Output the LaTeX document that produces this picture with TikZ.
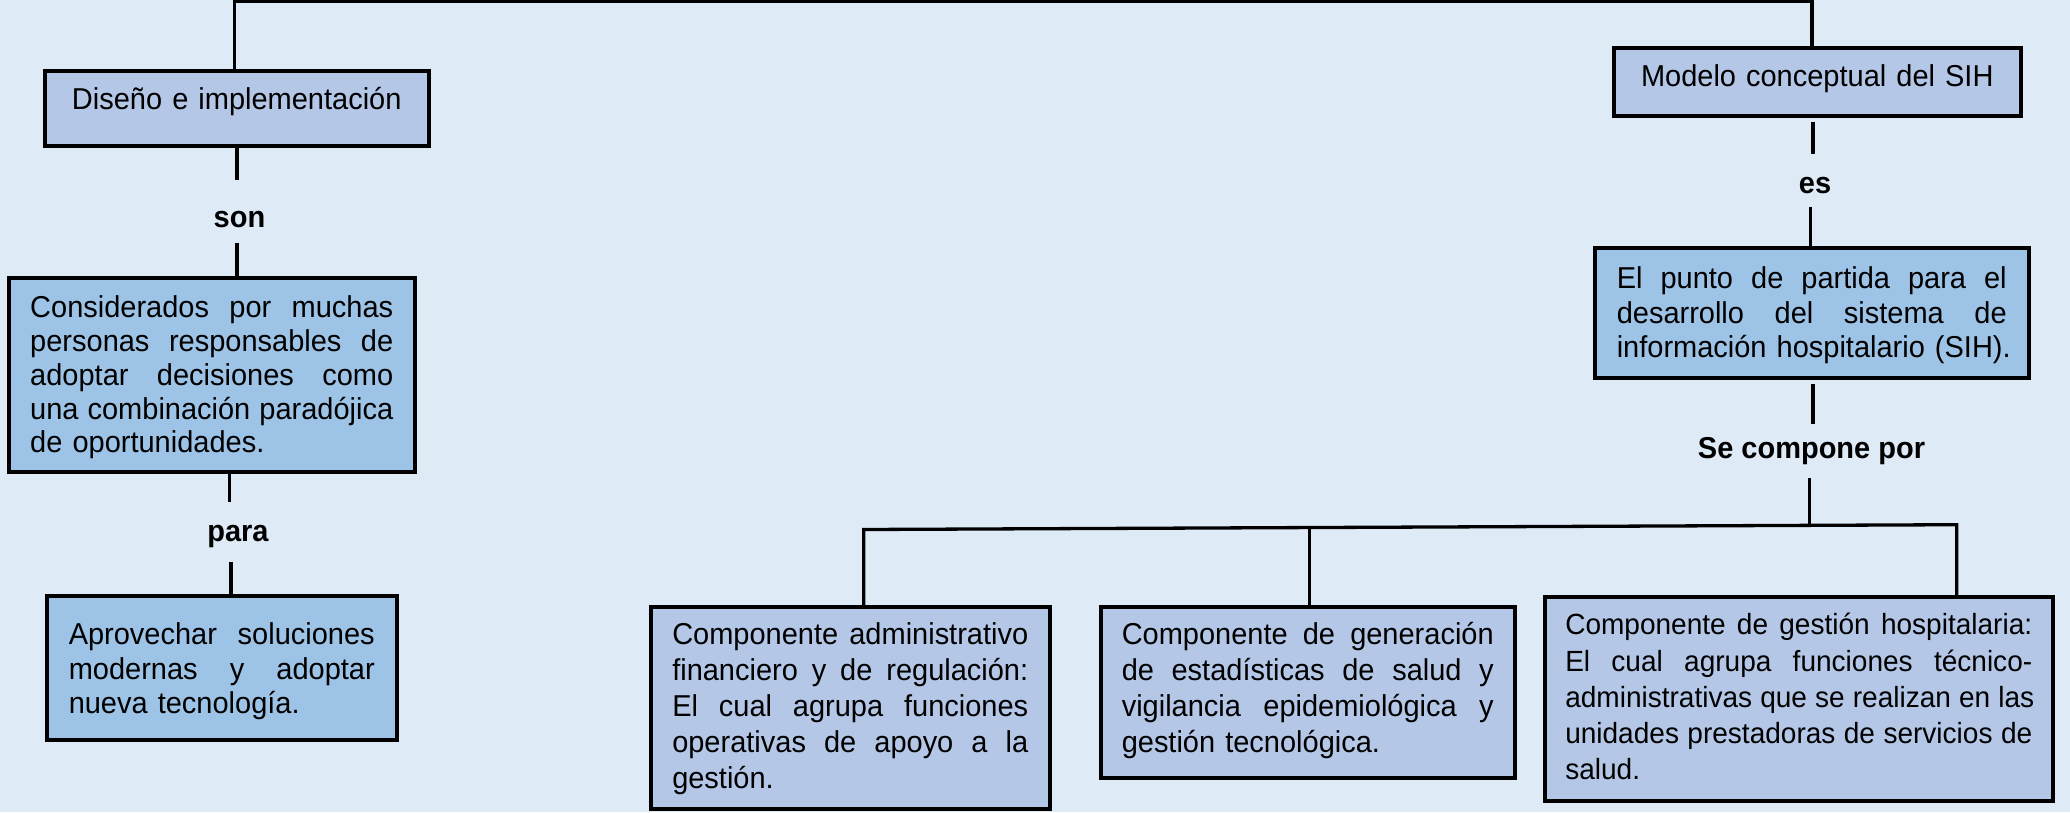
\documentclass[tikz,border=0pt]{standalone}
\usepackage{fontspec}
\setmainfont{Liberation Sans}[FakeStretch=0.96]
\definecolor{bg}{HTML}{DEEBF7}
\definecolor{fillA}{HTML}{B4C7E7}
\definecolor{fillB}{HTML}{9DC3E6}
\newcommand{\jl}[1]{\leavevmode\hbox to \hsize{\spaceskip=0.278em plus 1fil\relax #1}}
\begin{document}
\begin{tikzpicture}[x=1pt,y=-1pt,
  box/.style={draw=black, line width=3.5pt, anchor=north west, inner ysep=0pt, align=left},
  conn/.style={line width=3.5pt},
  barline/.style={line width=3.3pt, line join=miter},
  lbl/.style={font=\fontsize{30.2}{34.5}\selectfont\bfseries, inner sep=0pt, anchor=north}]
\useasboundingbox (0,0) rectangle (2070,812);
\fill[bg] (0,0) rectangle (2070,812);

% boxes
\node[box, fill=fillA, font=\fontsize{30.2}{34.5}\selectfont, text width=384pt, inner xsep=0pt, align=center,
  text height=39pt, text depth=36pt] (dis) at (43,69) {Diseño e implementación};
\node[box, fill=fillA, font=\fontsize{30.2}{34.5}\selectfont, text width=407pt, inner xsep=0pt, align=center,
  text height=39pt, text depth=29pt] (mod) at (1612,46) {Modelo conceptual del SIH};
\node[box, fill=fillB, font=\fontsize{30.2}{33.8}\selectfont, text width=363pt, inner xsep=21.5pt,
  text height=40pt, text depth=154pt] (cons) at (7,276)
  {\jl{Considerados por muchas}\\\jl{personas responsables de}\\\jl{adoptar decisiones como}\\\jl{una combinación paradójica}\\de oportunidades.};
\node[box, fill=fillB, font=\fontsize{30.2}{34.5}\selectfont, text width=306pt, inner xsep=22pt,
  text height=49pt, text depth=95pt] (apro) at (45,594)
  {\jl{Aprovechar soluciones}\\\jl{modernas y adoptar}\\nueva tecnología.};
\node[box, fill=fillB, font=\fontsize{30.2}{34.5}\selectfont, text width=390pt, inner xsep=22pt,
  text height=41pt, text depth=89pt] (punto) at (1593,246)
  {\jl{El punto de partida para el}\\\jl{desarrollo del sistema de}\\\mbox{información hospitalario (SIH).}};
\node[box, fill=fillA, font=\fontsize{30.2}{36}\selectfont, text width=356pt, inner xsep=21.5pt,
  text height=38pt, text depth=164pt] (c1) at (649,605)
  {\jl{Componente administrativo}\\\jl{financiero y de regulación:}\\\jl{El cual agrupa funciones}\\\jl{operativas de apoyo a la}\\gestión.};
\node[box, fill=fillA, font=\fontsize{30.2}{36}\selectfont, text width=372pt, inner xsep=21pt,
  text height=38pt, text depth=133pt] (c2) at (1099,605)
  {\jl{Componente de generación}\\\jl{de estadísticas de salud y}\\\jl{vigilancia epidemiológica y}\\gestión tecnológica.};
\node[box, fill=fillA, font=\fontsize{29.2}{36.3}\selectfont, text width=467pt, inner xsep=20.5pt,
  text height=38pt, text depth=166pt] (c3) at (1543,595)
  {\jl{Componente de gestión hospitalaria:}\\\jl{El cual agrupa funciones técnico-}\\\jl{administrativas que se realizan en las}\\\jl{unidades prestadoras de servicios de}\\salud.};

% labels
\node[lbl, text height=47pt, text depth=16pt] (son) at (239.5,180) {son};
\node[lbl, text height=39pt, text depth=20pt] (para) at (238,502.3) {para};
\node[lbl, text height=39.3pt, text depth=13pt] (es) at (1815,154) {es};
\node[lbl, text height=34.3pt, text depth=19pt] (se) at (1811.5,424) {Se compone por};

% top connector
\coordinate (tl) at (234.5,1.7);
\coordinate (tr) at (1812,1.7);
\draw[barline] (tl |- dis.north) -- (tl) -- (tr) -- (tr |- mod.north);

% left column
\draw[conn] (dis.south) -- (dis.south |- son.north);
\draw[conn] (dis.south |- son.south) -- (dis.south |- cons.north);
\coordinate (pl) at ([xshift=-8.5pt]para.north);
\coordinate (pl2) at ([xshift=-7pt]para.south);
\draw[conn] (pl |- cons.south) -- (pl);
\draw[conn] (pl2) -- (pl2 |- apro.north);

% right column
\coordinate (eu) at ([xshift=-2pt]es.north);
\coordinate (el) at ([xshift=-4.7pt]es.south);
\draw[conn, shorten <=4pt] (eu |- mod.south) -- (eu);
\draw[conn] (el) -- (el |- punto.north);
\coordinate (su) at ([xshift=1.5pt]se.north);
\draw[conn, shorten <=4pt] (su |- punto.south) -- (su);
\coordinate (bj) at (1809.7,525.3);
\draw[conn] (bj |- se.south) -- (bj);

% branch bar
\coordinate (b1) at (863.7,529.5);
\coordinate (b2) at (1309.3,527.5);
\coordinate (b3) at (1956.7,524.7);
\draw[barline] (b1 |- c1.north) -- (b1) -- (b3) -- (b3 |- c3.north);
\draw[conn] (b2) -- (b2 |- c2.north);
\end{tikzpicture}
\end{document}
